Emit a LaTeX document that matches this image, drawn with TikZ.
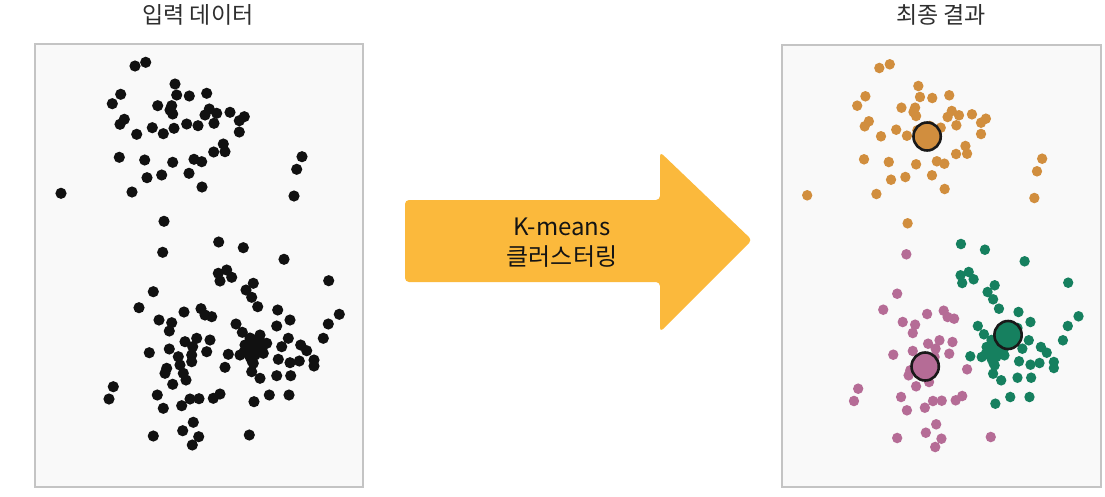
\documentclass[tikz,border=0pt]{standalone}
\usepackage{fontspec}
\setmainfont{Noto Sans CJK KR}
\usepackage{xcolor}
\usetikzlibrary{positioning}

\definecolor{panelbg}{HTML}{F9F9F9}
\definecolor{panelline}{HTML}{C4C4C4}
\definecolor{dotblack}{HTML}{111111}
\definecolor{clorange}{HTML}{D18E3E}
\definecolor{clpink}{HTML}{B56C96}
\definecolor{clgreen}{HTML}{16805F}
\definecolor{arrowyel}{HTML}{FBB93C}

\newcommand{\orangepts}{135/66, 145.7/62.3, 175/84, 120.7/94.3, 112.3/103.7, 176.7/95, 189.3/96, 206.7/93.3, 157.7/105.7, 171.7/105.7, 172.7/114, 170/110, 209.3/109, 216.7/113.3, 205/115, 230/112.3, 244.3/116.7, 239.3/120.7, 124.3/119.3, 120/124.3, 152.3/127.7, 174/128.3, 186.7/124, 198/125.7, 214/123.3, 136.7/134.3, 163.3/133.7, 239.3/132, 223.3/144, 225/151.7, 213.7/152, 119.3/157.3, 144.7/160, 172.7/162.3, 194/159.3, 201.7/161.7, 147/177.7, 161.7/175, 189/173.3, 202/187, 132/192, 61/193.3, 302/156.7, 296.7/169.3, 294/196, 164/221.3}
\newcommand{\pinkpts}{162.7/252.3, 153.3/291.7, 139/307.7, 184/312, 201/308.7, 211.7/316.7, 205/315, 159/320, 171.7/322.7, 169.3/331, 210/340, 196.7/338.3, 185/341.7, 192.7/346.7, 169.3/349, 149.3/352.7, 206.7/351.7, 178.3/356.7, 191.7/355, 191.7/361.7, 180/365, 166.7/368.3, 165/373.3, 183.3/373.3, 186/380, 225/367.3, 172.7/384.3, 113.3/386.7, 109/399, 157.3/395, 163.3/408.3, 181.7/405.7, 190/399, 199/398.7, 213.3/398.3, 220/394, 193.3/422.3, 182.7/430.7, 198.7/436.7, 192.3/445, 153.3/436, 249.3/435}
\newcommand{\greenpts}{218.7/242, 243.3/247.7, 284/259.3, 218.3/273.3, 226.7/270, 231.7/277.3, 220/281, 253.3/283.3, 246/290, 251.7/297.3, 257.7/306.7, 328.7/280.7, 277.7/310, 290/320, 276.7/326, 339.3/314.3, 328.3/324, 323.3/338.3, 236/324, 242.3/332.3, 260/335, 266.7/343.3, 250/345, 256.7/350, 263.3/353.3, 250/356.7, 240/355, 228.3/354.3, 253.3/363.3, 288.3/338.3, 281.7/346.7, 300.7/345, 306.7/350.7, 278.3/359.3, 290/362.7, 299.3/361, 314/360, 314/366, 251.7/371.7, 260/378.3, 276.7/375.7, 290.7/375.7, 254/401.7, 269.3/395, 289/395, 253/340, 258/345, 247/350, 262/348, 255/355, 245/345, 250/338, 260/341, 244/352, 252/361}

\begin{document}
\begin{tikzpicture}[x=1pt,y=-1pt,
    panel/.style={fill=panelbg,draw=panelline,line width=1.2pt},
    title/.style={text=black!82,font=\fontsize{23}{27}\selectfont},
    centroid/.style={draw=black!90,line width=2.6pt}]

  \useasboundingbox (0,0) rectangle (1105,496);

  % %panels
  \draw[panel] (35,44) rectangle (363,487);
  \draw[panel] (782,45) rectangle (1101,487);
  \node[title] (InDa) at (198,15) {입력 데이터};
  \node[title] (FiRe) at (941,15) {최종 결과};

  % %input data, all black
  \foreach \x/\y in \orangepts {\fill[dotblack] (\x,\y) circle (5.6);}
  \foreach \x/\y in \pinkpts {\fill[dotblack] (\x,\y) circle (5.6);}
  \foreach \x/\y in \greenpts {\fill[dotblack] (\x,\y) circle (5.6);}

  % %result, same data coloured by cluster
  \begin{scope}[shift={(747.7,2)},xscale=0.975]
    \foreach \x/\y in \orangepts {\fill[clorange] (\x,\y) circle (5.3);}
    \foreach \x/\y in \pinkpts {\fill[clpink] (\x,\y) circle (5.3);}
    \foreach \x/\y in \greenpts {\fill[clgreen] (\x,\y) circle (5.3);}
    \filldraw[centroid,fill=clorange] (184,134.5) circle (14);
    \filldraw[centroid,fill=clpink] (182,364.5) circle (14);
    \filldraw[centroid,fill=clgreen] (267,333) circle (14);
  \end{scope}

  % %arrow
  \fill[arrowyel,rounded corners=4pt] (405,200) -- (660,200) -- (660,152) -- (752,240)
    -- (660,332) -- (660,282) -- (405,282) -- cycle;
  \node[text=black!92,align=center,font=\fontsize{24}{30}\selectfont] (KmCl) at (562,243) {K-means\\클러스터링};

\end{tikzpicture}
\end{document}
